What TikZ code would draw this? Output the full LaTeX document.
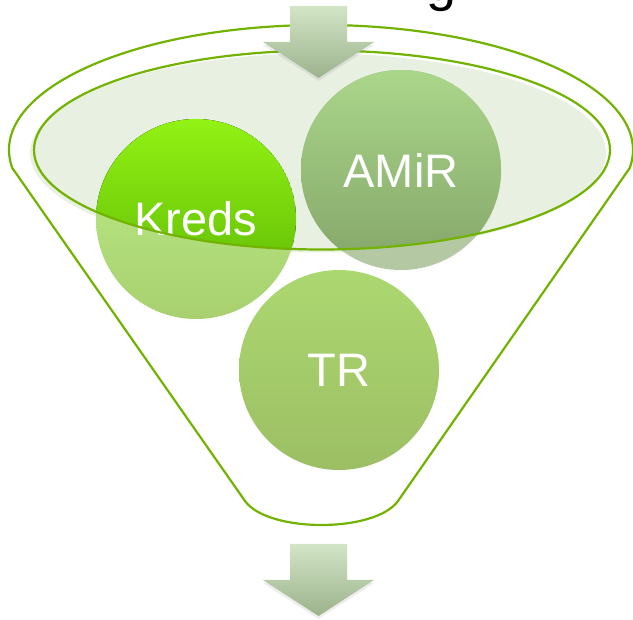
\documentclass[tikz,border=0pt]{standalone}
\usepackage{fontspec}
\setmainfont{Liberation Sans}
\usetikzlibrary{shadows}
\definecolor{fgreen}{RGB}{114,178,0}
\definecolor{efill}{RGB}{232,240,225}
\definecolor{arrtop}{RGB}{210,229,198}
\definecolor{arrbot}{RGB}{156,178,140}
\tikzstyle{fun}=[draw=fgreen, line width=2.2pt]
\tikzstyle{bub}=[circle, minimum size=200pt, inner sep=0pt, text=white,
  font=\fontsize{47}{50}\selectfont,
  circular drop shadow={opacity=0.12, shadow xshift=1pt, shadow yshift=-3pt, shadow scale=1}]
\tikzstyle{arr}=[top color=arrtop, bottom color=arrbot,
  drop shadow={opacity=0.15, shadow xshift=0pt, shadow yshift=-3pt}]

\begin{document}
\begin{tikzpicture}[x=1pt, y=-1pt]
  \useasboundingbox (0,0) rectangle (633,620);
  \coordinate (ec) at (322,150);
  \node[anchor=base west, font=\fontsize{54}{60}\selectfont] (title) at (423,1) {g};
  % funnel
  \draw[fun] (12.3,168) arc[start angle=171.7, end angle=368.3, x radius=312, y radius=125]
    -- (398,501) .. controls (375,533) and (268,533) .. (245,501) -- cycle;
  \fill[efill] ([shift={(-4,3)}]ec) ellipse [x radius=288, y radius=99.5];
  % circles
  \node[bub, top color={rgb,255:red,190;green,238;blue,140}, bottom color={rgb,255:red,168;green,208;blue,110},
    path picture={\clip (ec) ellipse [x radius=288, y radius=99.5];
      \fill[top color={rgb,255:red,146;green,242;blue,20}, bottom color={rgb,255:red,88;green,178;blue,2}]
        (path picture bounding box.center) circle (100);}] (kreds) at (196,219) {Kreds};
  \node[bub, fill={rgb,255:red,180;green,200;blue,164},
    path picture={\clip (ec) ellipse [x radius=288, y radius=99.5];
      \fill[top color={rgb,255:red,170;green,214;blue,138}, bottom color={rgb,255:red,132;green,165;blue,105}]
        (path picture bounding box.center) circle (100);}] (amir) at (401,170) {AMiR};
  \node[bub, top color={rgb,255:red,172;green,216;blue,112}, bottom color={rgb,255:red,156;green,190;blue,100}]
    (tr) at (339,370) {TR};
  \draw[fun] (ec) ellipse [x radius=288, y radius=99.5];
  % arrows in and out
  \foreach \y in {6,544}
    \path[arr] (290,\y) -- ++(57,0) -- ++(0,36) -- ++(27,0) -- ++(-55.5,36)
      -- ++(-55.5,-36) -- ++(27,0) -- cycle;
\end{tikzpicture}
\end{document}
